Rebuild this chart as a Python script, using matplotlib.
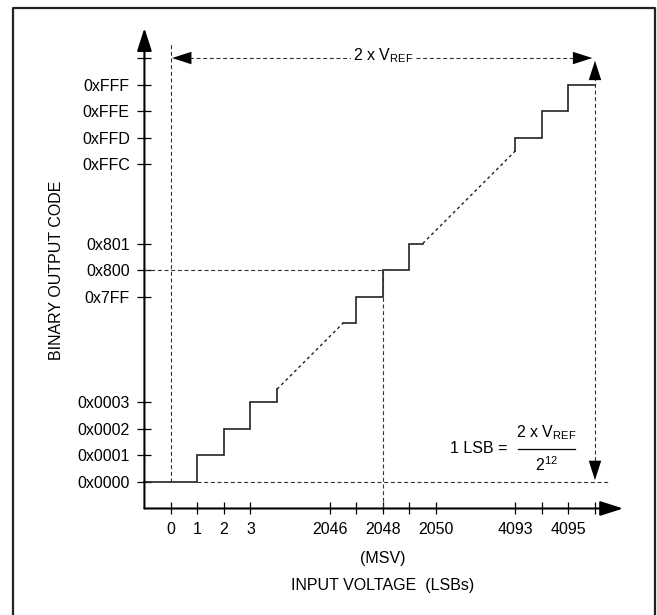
import numpy as np
import matplotlib.pyplot as plt
from matplotlib import font_manager
from matplotlib.lines import Line2D

names = {f.name for f in font_manager.fontManager.ttflist}
FONT = 'Liberation Sans Narrow' if 'Liberation Sans Narrow' in names else 'Liberation Sans'
print('font:', FONT)
plt.rcParams['font.family'] = [FONT, 'DejaVu Sans']
plt.rcParams['mathtext.fontset'] = 'custom'
plt.rcParams['mathtext.rm'] = FONT
plt.rcParams['mathtext.it'] = FONT
FS = 11.5

# input voltage ticks (LSBs)
x_ticks = [0, 1, 2, 3, 2046, 2047, 2048, 2049, 2050, 4093, 4094, 4095, 4096]
x_labels = ['0', '1', '2', '3', '2046', '', '2048', '', '2050', '4093', '', '4095', '']

# binary output code ticks
y_ticks = [0x0, 0x1, 0x2, 0x3, 0x7FF, 0x800, 0x801, 0xFFC, 0xFFD, 0xFFE, 0xFFF, 0x1000]
y_labels = ['0x0000', '0x0001', '0x0002', '0x0003', '0x7FF', '0x800', '0x801',
            '0xFFC', '0xFFD', '0xFFE', '0xFFF', '']

# transfer function, solid staircase pieces (input LSB, output code)
low_x = [-1, 1, 1, 2, 2, 3, 3, 4, 4]
low_y = [0, 0, 1, 1, 2, 2, 3, 3, 3.5]
mid_x = [2046.5, 2047, 2047, 2048, 2048, 2049, 2049, 2049.5]
mid_y = [2046, 2046, 2047, 2047, 2048, 2048, 2049, 2049]
high_x = [4093, 4093, 4094, 4094, 4095, 4095, 4096]
high_y = [4092.5, 4093, 4093, 4094, 4094, 4095, 4095]
# dashed links across the omitted codes
gap1_x, gap1_y = [4, 2046.5], [3.5, 2046]
gap2_x, gap2_y = [2049.5, 4093], [2049, 4092.5]


# broken scale: 0..~5 as is, around mid-scale and full-scale shifted in
def squeeze(v):
    v = np.asarray(v, dtype=float)
    return np.where(v > 3000, v - 4080, np.where(v > 1000, v - 2040, v))


def unsqueeze(p):
    p = np.asarray(p, dtype=float)
    return np.where(p > 11.5, p + 4080, np.where(p > 5, p + 2040, p))


fig = plt.figure(figsize=(6.57, 6.15), dpi=100)
ax = fig.add_axes([0, 0, 1, 1])
ax.set_xscale('function', functions=(squeeze, unsqueeze))
ax.set_yscale('function', functions=(squeeze, unsqueeze))
ax.set_xlim(-6.45, 4098.34)
ax.set_ylim(-5.02, 4098.19)

for s in ax.spines.values():
    s.set_visible(False)
ax.spines['left'].set_position(('data', -1))
ax.spines['bottom'].set_position(('data', -1))

ax.set_xticks(x_ticks, x_labels)
ax.set_yticks(y_ticks, y_labels)
ax.tick_params(axis='both', direction='inout', width=0.9, pad=5.5,
               labelsize=FS, colors='black')
ax.tick_params(axis='y', length=10)
ax.tick_params(axis='x', length=8.6)

ax.set_facecolor('white')

# axes with arrowheads
arrow = dict(arrowstyle='-|>,head_length=1.4,head_width=0.45', mutation_scale=10,
             lw=1.5, color='black', shrinkA=0, shrinkB=0)
ax.annotate('', xy=(-1, 4097.13), xytext=(-1, -1), arrowprops=arrow)
ax.annotate('', xy=(4097.06, -1), xytext=(-1, -1), arrowprops=arrow)

# staircase
for xs, ys in [(low_x, low_y), (mid_x, mid_y), (high_x, high_y)]:
    ax.plot(xs, ys, color='#222222', lw=1.2, solid_joinstyle='miter')
for xs, ys in [(gap1_x, gap1_y), (gap2_x, gap2_y)]:
    ax.plot(xs, ys, color='#222222', lw=1.0, dashes=(2.2, 2.2))

# guide lines
dash = dict(color='#333333', lw=0.8, dashes=(3.6, 2.4))
ax.plot([0, 0], [0, 4096.57], **dash)
ax.plot([1, 4096.5], [0, 0], **dash)
ax.plot([-1, 2048], [2048, 2048], **dash)
ax.plot([2048, 2048], [-1, 2048], **dash)
ax.plot([0.2, 4095.8], [4096, 4096], **dash)
ax.plot([4096, 4096], [0.3, 4095.6], **dash)

head = dict(arrowstyle='-|>,head_length=1.4,head_width=0.45', mutation_scale=10,
            lw=0, color='black', shrinkA=0, shrinkB=0)
ax.annotate('', xy=(0.04, 4096), xytext=(1.5, 4096), arrowprops=head)
ax.annotate('', xy=(4095.9, 4096), xytext=(4094.4, 4096), arrowprops=head)
ax.annotate('', xy=(4096, 4095.9), xytext=(4096, 4094.4), arrowprops=head)
ax.annotate('', xy=(4096, 0.07), xytext=(4096, 1.6), arrowprops=head)

# labels
ax.text(2048, 4096.1, r'2 x V$_{\mathrm{REF}}$', ha='center', va='center',
        fontsize=FS, bbox=dict(facecolor='white', edgecolor='none', pad=1.5))
ax.text(2048, -2.87, '(MSV)', ha='center', va='center', fontsize=FS)
ax.text(2048, -3.89, 'INPUT VOLTAGE  (LSBs)', ha='center', va='center', fontsize=FS)
ax.text(-4.3, 2048, 'BINARY OUTPUT CODE', ha='center', va='center',
        rotation=90, fontsize=FS)

ax.text(4092.7, 1.28, '1 LSB =', ha='right', va='center', fontsize=FS)
ax.plot([4093.1, 4095.25], [1.25, 1.25], color='black', lw=0.9)
ax.text(4094.17, 1.85, r'2 x V$_{\mathrm{REF}}$', ha='center', va='center', fontsize=FS)
ax.text(4094.17, 0.64, r'$\mathrm{2}^{\mathrm{12}}$', ha='center', va='center', fontsize=FS)

# outer frame (open at the bottom)
fig.add_artist(Line2D([0.0205, 0.0205, 0.997, 0.997], [0.0, 0.987, 0.987, 0.0],
                      transform=fig.transFigure, color='#222222', lw=1.6))

fig.savefig('out.png', dpi=100, facecolor='white')
